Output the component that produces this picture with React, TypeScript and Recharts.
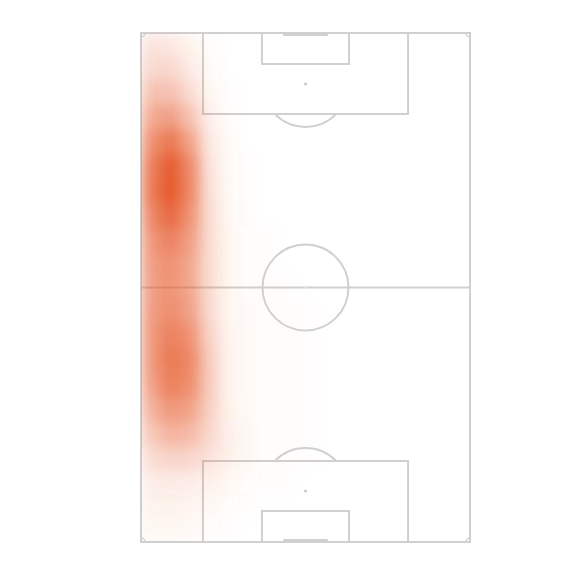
import {
  ReferenceArea,
  ReferenceDot,
  ReferenceLine,
  Scatter,
  ScatterChart,
  XAxis,
  YAxis,
} from "recharts";

// pitch in metres, x across (0 = left touchline), y down the pitch (0 = top goal line)
const pitchWidth = 68;
const pitchLength = 105;

// heat grid: 4m wide columns, 5m tall rows (top to bottom)
const cellW = 4;
const cellH = 5;
const heatRows = [
  [0.16, 0.14, 0.07, 0.02, 0, 0, 0, 0, 0],
  [0.24, 0.24, 0.12, 0.03, 0, 0, 0, 0, 0],
  [0.36, 0.38, 0.22, 0.05, 0.01, 0, 0, 0, 0],
  [0.5, 0.58, 0.36, 0.09, 0.02, 0, 0, 0, 0],
  [0.65, 0.82, 0.55, 0.13, 0.03, 0, 0, 0, 0],
  [0.75, 0.98, 0.7, 0.16, 0.03, 0.01, 0, 0, 0],
  [0.78, 1.0, 0.72, 0.18, 0.03, 0.01, 0, 0, 0],
  [0.7, 0.9, 0.65, 0.2, 0.04, 0.01, 0, 0, 0],
  [0.62, 0.75, 0.58, 0.2, 0.05, 0.02, 0.01, 0, 0],
  [0.58, 0.66, 0.52, 0.2, 0.05, 0.02, 0.01, 0, 0],
  [0.56, 0.64, 0.52, 0.2, 0.05, 0.02, 0.01, 0.01, 0],
  [0.58, 0.68, 0.56, 0.22, 0.05, 0.03, 0.02, 0.01, 0.01],
  [0.6, 0.76, 0.66, 0.26, 0.06, 0.03, 0.02, 0.02, 0.01],
  [0.6, 0.8, 0.72, 0.3, 0.06, 0.03, 0.02, 0.02, 0.01],
  [0.55, 0.76, 0.68, 0.3, 0.06, 0.03, 0.02, 0.02, 0.01],
  [0.45, 0.62, 0.55, 0.28, 0.07, 0.03, 0.02, 0.02, 0.01],
  [0.32, 0.45, 0.42, 0.24, 0.09, 0.04, 0.02, 0.02, 0.01],
  [0.2, 0.26, 0.25, 0.17, 0.08, 0.04, 0.02, 0.01, 0.01],
  [0.11, 0.12, 0.11, 0.08, 0.05, 0.02, 0.01, 0.01, 0],
  [0.07, 0.07, 0.06, 0.04, 0.02, 0.01, 0, 0, 0],
  [0.05, 0.05, 0.04, 0.02, 0.01, 0, 0, 0, 0],
];

const heatCells = heatRows.flatMap((row, r) =>
  row.map((v, c) => ({ x: c * cellW + cellW / 2, y: r * cellH + cellH / 2, v }))
);

// pitch markings
const penaltyBox = { x1: 12.8, x2: 55.2, depth: 16.7 };
const goalArea = { x1: 25, x2: 43, depth: 6.4 };
const penaltySpot = 10.5;
const goalMouth = { x1: 29.4, x2: 38.6 };
const corners = [
  { x: 0, y: 0, sx: 1, sy: 1 },
  { x: pitchWidth, y: 0, sx: -1, sy: 1 },
  { x: 0, y: pitchLength, sx: 1, sy: -1 },
  { x: pitchWidth, y: pitchLength, sx: -1, sy: -1 },
];

const W = 586;
const H = 586;
const margin = { top: 25, right: 124, bottom: 52, left: 133 };
const plotW = W - margin.left - margin.right;
const plotH = H - margin.top - margin.bottom;
const pxW = (cellW / pitchWidth) * plotW;
const pxH = (cellH / pitchLength) * plotH;
const line = "#d0d0d0";
const heatColor = "#e65a2c";

const HeatCell = (props: any) => {
  const { cx, cy, payload } = props;
  if (!payload || payload.v <= 0) return null;
  return (
    <rect
      x={cx - pxW / 2}
      y={cy - pxH / 2}
      width={pxW + 0.5}
      height={pxH + 0.5}
      fill={heatColor}
      fillOpacity={payload.v}
    />
  );
};

const arcShape = (down: boolean) => (props: any) => {
  const { cx, cy } = props;
  const r = 43;
  const dy = 30;
  const w = Math.sqrt(r * r - dy * dy);
  const y0 = down ? cy + dy : cy - dy;
  return (
    <path
      d={`M${cx - w},${y0} A${r},${r} 0 0 ${down ? 0 : 1} ${cx + w},${y0}`}
      fill="none"
      stroke={line}
      strokeWidth={2}
    />
  );
};

const cornerShape = (sx: number, sy: number) => (props: any) => {
  const { cx, cy } = props;
  const r = 4;
  const sweep = sx * sy > 0 ? 0 : 1;
  return (
    <path
      d={`M${cx},${cy + sy * r} A${r},${r} 0 0 ${sweep} ${cx + sx * r},${cy}`}
      fill="none"
      stroke={line}
      strokeWidth={1.5}
    />
  );
};

const App = () => {
  return (
    <div>
      <style>{`g.heat { filter: url(#heatBlur); }`}</style>
      <svg width={0} height={0} style={{ position: "absolute" }}>
        <defs>
          <filter
            id="heatBlur"
            filterUnits="userSpaceOnUse"
            x={margin.left}
            y={margin.top}
            width={plotW}
            height={plotH}
          >
            <feGaussianBlur stdDeviation={7} />
          </filter>
        </defs>
      </svg>
      <ScatterChart width={W} height={H} margin={margin}>
        <XAxis type="number" dataKey="x" domain={[0, pitchWidth]} hide />
        <YAxis type="number" dataKey="y" domain={[0, pitchLength]} reversed hide />
        <Scatter
          className="heat"
          data={heatCells}
          shape={HeatCell}
          isAnimationActive={false}
        />
        {/* outline and halfway */}
        <ReferenceArea x1={0} x2={pitchWidth} y1={0} y2={pitchLength} fill="none" stroke={line} strokeWidth={2} />
        <ReferenceLine y={pitchLength / 2} stroke={line} strokeWidth={2} />
        <ReferenceDot x={pitchWidth / 2} y={pitchLength / 2} r={43} fill="none" stroke={line} strokeWidth={2} />
        <ReferenceDot x={pitchWidth / 2} y={pitchLength / 2} r={1} fill="#e4e4e4" stroke="none" />
        {corners.map((c, i) => (
          <ReferenceDot key={i} x={c.x} y={c.y} r={4} shape={cornerShape(c.sx, c.sy)} />
        ))}
        {/* top end */}
        <ReferenceArea x1={penaltyBox.x1} x2={penaltyBox.x2} y1={0} y2={penaltyBox.depth} fill="none" stroke={line} strokeWidth={2} />
        <ReferenceArea x1={goalArea.x1} x2={goalArea.x2} y1={0} y2={goalArea.depth} fill="none" stroke={line} strokeWidth={2} />
        <ReferenceDot x={pitchWidth / 2} y={penaltySpot} r={1.5} fill="#c8c8c8" stroke="none" />
        <ReferenceDot x={pitchWidth / 2} y={penaltySpot} r={43} shape={arcShape(true)} />
        <ReferenceLine segment={[{ x: goalMouth.x1, y: 0.4 }, { x: goalMouth.x2, y: 0.4 }]} stroke={line} strokeWidth={2} />
        {/* bottom end */}
        <ReferenceArea x1={penaltyBox.x1} x2={penaltyBox.x2} y1={pitchLength - penaltyBox.depth} y2={pitchLength} fill="none" stroke={line} strokeWidth={2} />
        <ReferenceArea x1={goalArea.x1} x2={goalArea.x2} y1={pitchLength - goalArea.depth} y2={pitchLength} fill="none" stroke={line} strokeWidth={2} />
        <ReferenceDot x={pitchWidth / 2} y={pitchLength - penaltySpot} r={1.5} fill="#c8c8c8" stroke="none" />
        <ReferenceDot x={pitchWidth / 2} y={pitchLength - penaltySpot} r={43} shape={arcShape(false)} />
        <ReferenceLine segment={[{ x: goalMouth.x1, y: pitchLength - 0.4 }, { x: goalMouth.x2, y: pitchLength - 0.4 }]} stroke={line} strokeWidth={2} />
      </ScatterChart>
    </div>
  );
};

export default App;
